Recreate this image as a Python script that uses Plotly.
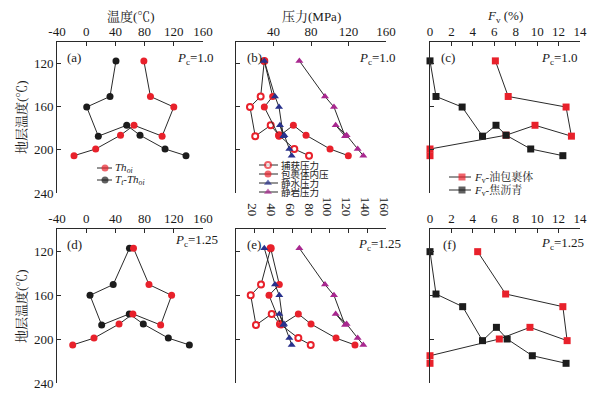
import plotly.graph_objects as go

# ---------------- data ----------------
strata_T = [117.5, 150.5, 160.3, 187.3, 177.2, 186.4, 199.2, 205.4]
strata_T_f = [120.6, 159.1, 170.6, 201.5, 189.4, 200.0, 215.2, 222.1]

a_thoi = [79, 88, 120, 104, 65.5, 47, 13, -16.7]
a_tt_thoi = [40.8, 32.6, 0.7, 16.6, 55.5, 73.7, 108, 136.7]
d_thoi = [64.8, 86, 117, 102, 64, 45, 10.7, -18.5]
d_tt_thoi = [59.3, 37, 5.2, 21.2, 59, 78.2, 112.5, 141.3]

b_trap = [30.2, 26.3, 14.9, 20.5, 37, 45.9, 62.2, 77.9]
b_internal = [30.2, 39.1, 30.2, 45.9, 61.2, 74.7, 100.3, 119.8]
b_hydro = [30.2, 41.6, 45.9, 50.5, 46.9, 51.6, 56.9, 59.4]
b_litho = [67.6, 94.9, 104.5, 116.3, 106.3, 118.0, 129.8, 135.8]
e_trap = [37, 26.7, 15.7, 21.3, 38.1, 46.9, 66.5, 79.7]
e_internal = [37, 46.2, 35.2, 48, 66.5, 80, 106.7, 126.9]
e_hydro = [30.2, 41.6, 46.2, 50.5, 46.2, 51.2, 56.9, 59.4]
e_litho = [67.6, 94.9, 104.5, 116.3, 106.3, 118.0, 129.8, 135.8]

c_oil = [6.1, 7.3, 12.7, 13.2, 9.8, 7.1, 0, 0]
c_bitumen = [0, 0.56, 3.0, 4.9, 6.16, 7.1, 9.4, 12.4]
f_oil = [4.45, 7.06, 12.4, 12.8, 9.33, 6.47, 0, 0]
f_bitumen = [0, 0.56, 3.05, 4.9, 6.2, 7.2, 9.55, 12.7]

temp_ticks = [-40, 0, 40, 80, 120, 160]
temp_labels = ["-40", "0", "40", "80", "120", "160"]
press_ticks_top = [40, 80, 120, 160]
press_ticks_bot = [20, 40, 60, 80, 100, 120, 140, 160]
fv_ticks = [0, 2, 4, 6, 8, 10, 12, 14]
depth_ticks = [120, 160, 200, 240]

names_a = ["<i>Th</i><sub><i>oi</i></sub>", "<i>T</i><sub><i>t</i></sub><i>-Th</i><sub><i>oi</i></sub>"]
names_b = ["捕获压力", "包裹体内压", "静水压力", "静岩压力"]
names_c = ["<i>F</i><sub>v</sub>-油包裹体", "<i>F</i><sub>v</sub>-焦沥青"]

# ---------------- style ----------------
OFF = 8            # the page body offsets the figure by 8px
PW, PH = 608, 393  # page (target) size
W, H = PW - OFF, PH - OFF
RED = "#e8212b"
BLK = "#1c1c1c"
NAVY = "#28318c"
PURP = "#a8288f"
LINE = "#2a2a2a"
TXT = "#1a1a1a"
SERIF = "Liberation Serif, Times New Roman, Noto Serif CJK SC, Noto Sans CJK SC, serif"
CJK = "Noto Sans CJK SC, Liberation Serif, serif"

# panel boxes in page pixels
cols = [(57, 203), (236, 386), (430, 580)]
rows = [(42, 193), (229, 383)]

def xd(c):
    return [(cols[c][0] - OFF) / W, (cols[c][1] - OFF) / W]

def yd(r):
    return [1 - (rows[r][1] - OFF) / H, 1 - (rows[r][0] - OFF) / H]

fig = go.Figure()

def line_trace(x, y, ax, color, symbol, size=7, hollow=False):
    if hollow:
        mk = dict(symbol=symbol, size=size - 1, color="white", line=dict(color=color, width=2))
    else:
        mk = dict(symbol=symbol, size=size, color=color, line=dict(width=0))
    fig.add_trace(go.Scatter(x=x, y=y, mode="lines+markers", xaxis="x" + ax, yaxis="y" + ax,
                             line=dict(color=LINE, width=1), marker=mk, showlegend=False,
                             cliponaxis=False))

line_trace(a_tt_thoi, strata_T, "", BLK, "circle")
line_trace(a_thoi, strata_T, "", RED, "circle")
line_trace(d_tt_thoi, strata_T, "4", BLK, "circle")
line_trace(d_thoi, strata_T, "4", RED, "circle")
for ax, tr, it, hy, li in [("2", b_trap, b_internal, b_hydro, b_litho),
                           ("5", e_trap, e_internal, e_hydro, e_litho)]:
    line_trace(tr, strata_T, ax, RED, "circle", hollow=True)
    line_trace(it, strata_T, ax, RED, "circle")
    line_trace(hy, strata_T, ax, NAVY, "triangle-up")
    line_trace(li, strata_T, ax, PURP, "triangle-up")
line_trace(c_oil, strata_T, "3", RED, "square")
line_trace(c_bitumen, strata_T, "3", BLK, "square")
line_trace(f_oil, strata_T_f, "6", RED, "square")
line_trace(f_bitumen, strata_T_f, "6", BLK, "square")

axcfg = {}
xranges = [[-40, 160], [0, 160], [0, 14]]
xticks = [[temp_ticks, press_ticks_top, fv_ticks], [temp_ticks, press_ticks_bot, fv_ticks]]
for r in range(2):
    for c in range(3):
        i = r * 3 + c + 1
        sfx = "" if i == 1 else str(i)
        xa = dict(domain=xd(c), range=xranges[c], side="top", anchor="y" + sfx,
                  showline=True, linecolor=LINE, linewidth=1, ticks="inside",
                  ticklen=4, tickcolor=LINE, tickvals=xticks[r][c],
                  showgrid=False, zeroline=False, automargin=False,
                  tickfont=dict(family=SERIF, size=13, color=TXT))
        if c == 0:
            xa["ticktext"] = temp_labels
        axcfg["xaxis" + sfx] = xa
        axcfg["yaxis" + sfx] = dict(domain=yd(r), range=[240, 100], anchor="x" + sfx,
                                    showline=True, linecolor=LINE, linewidth=1, ticks="inside",
                                    ticklen=4, tickcolor=LINE, tickvals=depth_ticks,
                                    showticklabels=(c == 0), showgrid=False, zeroline=False,
                                    automargin=False,
                                    tickfont=dict(family=SERIF, size=13, color=TXT))
# overlay axis in page-pixel units, used for legend samples and labels
axcfg["xaxis7"] = dict(domain=[0, 1], range=[OFF, OFF + W], visible=False, anchor="y7", fixedrange=True)
axcfg["yaxis7"] = dict(domain=[0, 1], range=[OFF + H, OFF], visible=False, anchor="x7", fixedrange=True)

LEG_A = dict(x0=97, xm=105, x1=112, tx=113, ys=[168, 180])
LEG_B = dict(x0=259, xm=268, x1=278, tx=279, ys=[165, 174, 183, 192])
LEG_C = dict(x0=449, xm=462, x1=471, tx=472, ys=[177, 190])

def leg_sample(L, yv, color, symbol, hollow=False):
    if hollow:
        mk = dict(symbol=symbol, size=[0, 6, 0], color="white", line=dict(color=color, width=2))
    else:
        mk = dict(symbol=symbol, size=[0, 7, 0], color=color, line=dict(width=0))
    fig.add_trace(go.Scatter(x=[L["x0"], L["xm"], L["x1"]], y=[yv] * 3, mode="lines+markers",
                             xaxis="x7", yaxis="y7", line=dict(color=LINE, width=1), marker=mk,
                             showlegend=False, cliponaxis=False, hoverinfo="skip"))

leg_sample(LEG_A, LEG_A["ys"][0], RED, "circle")
leg_sample(LEG_A, LEG_A["ys"][1], BLK, "circle")
leg_sample(LEG_B, LEG_B["ys"][0], RED, "circle", hollow=True)
leg_sample(LEG_B, LEG_B["ys"][1], RED, "circle")
leg_sample(LEG_B, LEG_B["ys"][2], NAVY, "triangle-up")
leg_sample(LEG_B, LEG_B["ys"][3], PURP, "triangle-up")
leg_sample(LEG_C, LEG_C["ys"][0], RED, "square")
leg_sample(LEG_C, LEG_C["ys"][1], BLK, "square")

ann = []
def txt(x, y, s, size=13, fam=SERIF, xanchor="left", **kw):
    ann.append(dict(x=x, y=y, xref="x7", yref="y7", text=s, showarrow=False, xanchor=xanchor,
                    yanchor="middle", font=dict(family=fam, size=size, color=TXT), **kw))

for s, yv in zip(names_a, LEG_A["ys"]):
    txt(LEG_A["tx"], yv, s, size=11)
for s, yv in zip(names_b, LEG_B["ys"]):
    txt(LEG_B["tx"], yv, s, size=9.5, fam=CJK)
for s, yv in zip(names_c, LEG_C["ys"]):
    txt(LEG_C["tx"], yv, s, size=11)

txt(131, 16, "温度(℃)", size=13, xanchor="center")
txt(311, 16, "压力(MPa)", size=13, xanchor="center")
txt(505, 16, "<i>F</i><sub>v</sub> (%)", size=13, xanchor="center")
txt(21, 117, "地层温度(℃)", size=13, xanchor="center", textangle=-90)
txt(21, 306, "地层温度(℃)", size=13, xanchor="center", textangle=-90)

for lab, x, y in [("(a)", 65, 57), ("(b)", 245, 57), ("(c)", 439, 57),
                  ("(d)", 65, 244), ("(e)", 245, 244), ("(f)", 441, 244)]:
    txt(x, y, lab, size=13)
for s, x, y in [("1.0", 175, 58), ("1.0", 357, 58), ("1.0", 539, 58),
                ("1.25", 173, 240), ("1.25", 356, 244), ("1.25", 539, 243)]:
    txt(x, y, "<i>P</i><sub>c</sub>=" + s, size=13)

fig.update_layout(width=W, height=H, autosize=False, margin=dict(l=0, r=0, t=0, b=0, pad=0),
                  paper_bgcolor="white", plot_bgcolor="rgba(0,0,0,0)", showlegend=False,
                  annotations=ann, **axcfg)

fig.write_html("out.html")
